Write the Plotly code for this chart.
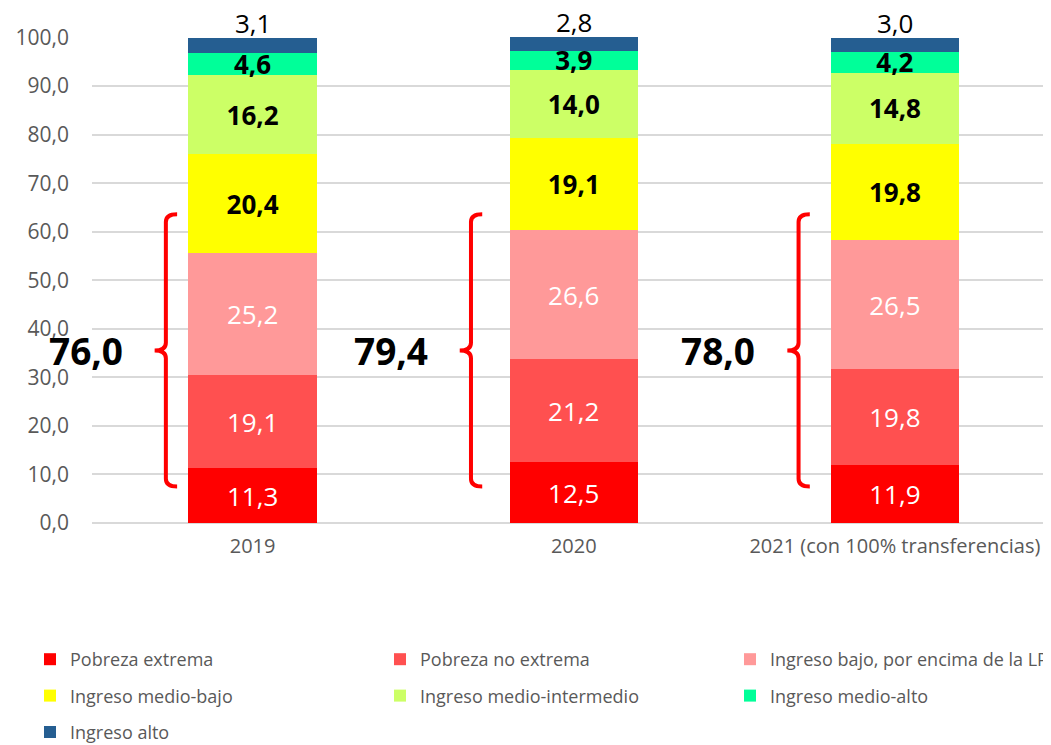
import plotly.graph_objects as go

# data
categories = ["2019", "2020", "2021 (con 100% transferencias)"]
pobreza_extrema = [11.3, 12.5, 11.9]
pobreza_no_extrema = [19.1, 21.2, 19.8]
ingreso_bajo = [25.2, 26.6, 26.5]
ingreso_medio_bajo = [20.4, 19.1, 19.8]
ingreso_medio_intermedio = [16.2, 14.0, 14.8]
ingreso_medio_alto = [4.6, 3.9, 4.2]
ingreso_alto = [3.1, 2.8, 3.0]

series = [
    ("Pobreza extrema", pobreza_extrema, "#FF0000", "white", "normal", "legend"),
    ("Pobreza no extrema", pobreza_no_extrema, "#FF5050", "white", "normal", "legend2"),
    ("Ingreso bajo, por encima de la LP", ingreso_bajo, "#FF9999", "white", "normal", "legend3"),
    ("Ingreso medio-bajo", ingreso_medio_bajo, "#FFFF00", "black", "bold", "legend"),
    ("Ingreso medio-intermedio", ingreso_medio_intermedio, "#CCFF66", "black", "bold", "legend2"),
    ("Ingreso medio-alto", ingreso_medio_alto, "#00FF99", "black", "bold", "legend3"),
    ("Ingreso alto", ingreso_alto, "#255E91", "black", "normal", "legend"),
]

FONT = "Open Sans"
xpos = list(range(len(categories)))

fig = go.Figure()
for i, (name, vals, color, tcolor, weight, leg) in enumerate(series):
    top = i == len(series) - 1
    fig.add_trace(go.Bar(
        x=xpos, y=vals, name=name, width=0.4,
        marker=dict(color=color, line=dict(width=0)),
        texttemplate="" if top else "%{y:.1f}",
        textposition="none" if top else "inside",
        insidetextanchor="middle",
        constraintext="none",
        textfont=dict(family=FONT, size=26, color=tcolor, weight=weight),
        legend=leg, legendgroup=name,
    ))

# label of the top segment sits above each bar
for i in xpos:
    stack_top = sum(s[1][i] for s in series)
    fig.add_annotation(x=i, y=stack_top, xref="x", yref="y", yanchor="bottom", yshift=-5,
                       showarrow=False, text=f"{ingreso_alto[i]:.1f}".replace(".", ","),
                       font=dict(family=FONT, size=26, color="black"))

# braces marking the sum of the four lowest groups
brace_lo, brace_hi = 7.5, 63.6
brace_dx = [-0.27, -0.32, -0.30]
r = 1.6
for i in xpos:
    total = pobreza_extrema[i] + pobreza_no_extrema[i] + ingreso_bajo[i] + ingreso_medio_bajo[i]
    xl = i + brace_dx[i]
    xh = xl + 0.035
    xt = xl - 0.035
    ym = (brace_lo + brace_hi) / 2
    path = (f"M {xh},{brace_hi} Q {xl},{brace_hi} {xl},{brace_hi - r} "
            f"L {xl},{ym + r} Q {xl},{ym} {xt},{ym} Q {xl},{ym} {xl},{ym - r} "
            f"L {xl},{brace_lo + r} Q {xl},{brace_lo} {xh},{brace_lo}")
    fig.add_shape(type="path", path=path, xref="x", yref="y",
                  line=dict(color="#FF0000", width=4))
    fig.add_annotation(x=xt, y=ym, xref="x", yref="y", xanchor="right", yanchor="middle",
                       xshift=-30, showarrow=False,
                       text=f"<b>{total:.1f}</b>".replace(".", ","),
                       font=dict(family=FONT, size=37, color="black"))

W, H = 1043, 737  # page body adds an 8px offset
leg_common = dict(orientation="v", traceorder="grouped", tracegroupgap=10,
                  font=dict(family=FONT, size=18, color="#595959"),
                  xref="container", yref="container",
                  xanchor="left", yanchor="top", bgcolor="rgba(0,0,0,0)")
y_leg = 1 - 633 / H
fig.update_layout(
    width=W, height=H,
    margin=dict(l=84, r=0, t=29, b=222, autoexpand=False),
    paper_bgcolor="white", plot_bgcolor="white",
    barmode="stack",
    separators=",.",
    showlegend=True,
    legend=dict(x=22 / W, y=y_leg, **leg_common),
    legend2=dict(x=372 / W, y=y_leg, **leg_common),
    legend3=dict(x=722 / W, y=y_leg, **leg_common),
    xaxis=dict(range=[-0.5, 2.486], tickvals=xpos, ticktext=categories,
               showgrid=False, zeroline=False, ticks="", ticklabelstandoff=9,
               automargin=False,
               tickfont=dict(family=FONT, size=20, color="#595959")),
    yaxis=dict(range=[0, 100.12], tickvals=list(range(0, 101, 10)), tickformat=".1f",
               showgrid=True, gridcolor="#D9D9D9", gridwidth=2,
               zeroline=True, zerolinecolor="#D9D9D9", zerolinewidth=2,
               ticks="", ticklabelstandoff=22, automargin=False,
               tickfont=dict(family=FONT, size=21, color="#595959")),
)

fig.write_html("out.html")
